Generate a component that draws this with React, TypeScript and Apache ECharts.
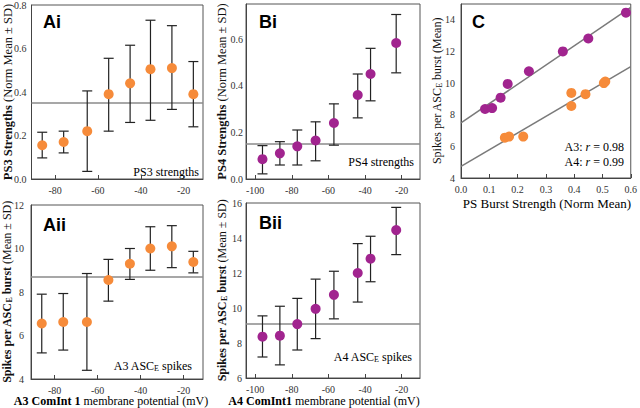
import React, { useEffect, useRef } from "react";
import * as echarts from "echarts";

// ---- Data ----
const a3Potential = [-86, -76, -65, -55, -45, -35.5, -25.5, -15.5];
const ps3Mean = [0.155, 0.17, 0.22, 0.39, 0.44, 0.505, 0.51, 0.39];
const ps3Low = [0.097, 0.12, 0.035, 0.22, 0.26, 0.27, 0.32, 0.24];
const ps3High = [0.215, 0.22, 0.405, 0.555, 0.615, 0.73, 0.705, 0.54];
const ps3Ref = 0.355;

const a3Spikes = [6.55, 6.62, 6.62, 8.55, 9.3, 10.0, 10.1, 9.38];
const a3SpikesLow = [5.2, 5.33, 4.4, 7.58, 8.58, 9.0, 9.12, 8.88];
const a3SpikesHigh = [7.9, 7.93, 8.85, 9.5, 10.0, 11.0, 11.05, 9.87];
const a3SpikesRef = 8.7;

const a4Potential = [-96, -86.5, -77, -67, -57, -44, -37, -23];
const ps4Mean = [0.085, 0.11, 0.14, 0.165, 0.24, 0.36, 0.45, 0.583];
const ps4Low = [0.022, 0.06, 0.06, 0.078, 0.145, 0.262, 0.335, 0.455];
const ps4High = [0.143, 0.16, 0.21, 0.245, 0.322, 0.45, 0.56, 0.705];
const ps4Ref = 0.153;

const a4Spikes = [8.36, 8.42, 9.08, 9.95, 10.75, 12.0, 12.82, 14.45];
const a4SpikesLow = [7.2, 6.75, 7.6, 8.25, 9.38, 10.34, 11.5, 13.05];
const a4SpikesHigh = [9.55, 10.1, 10.55, 11.65, 12.1, 13.68, 14.1, 15.75];
const a4SpikesRef = 9.1;

const a3TickLabels = [-80, -60, -40, -20];
const a4TickLabels = [-100, -80, -60, -40, -20];
const cXTicks = [0, 0.1, 0.2, 0.3, 0.4, 0.5, 0.6];

const ORANGE = "#F68B3A";
const PURPLE = "#A1248F";
const SERIF = "'Liberation Serif', 'Times New Roman', serif";
const SANS = "'Liberation Sans', Arial, sans-serif";

function fitLine(xs: number[], ys: number[]) {
  const n = xs.length;
  const mx = xs.reduce((a, b) => a + b, 0) / n;
  const my = ys.reduce((a, b) => a + b, 0) / n;
  let sxy = 0, sxx = 0;
  for (let i = 0; i < n; i++) {
    sxy += (xs[i] - mx) * (ys[i] - my);
    sxx += (xs[i] - mx) * (xs[i] - mx);
  }
  const m = sxy / sxx;
  return { m, b: my - m * mx };
}

const AXIS_COLOR = "#444";

function makeRich(size: number, lh: number) {
  return {
    b: { fontFamily: SERIF, fontSize: size, fontWeight: "bold", color: "#111", lineHeight: lh, verticalAlign: "middle" },
    bs: { fontFamily: SERIF, fontSize: 8, fontWeight: "bold", color: "#111", lineHeight: lh - 3, verticalAlign: "bottom" },
    n: { fontFamily: SERIF, fontSize: size, color: "#111", lineHeight: lh, verticalAlign: "middle" },
    s: { fontFamily: SERIF, fontSize: 8, color: "#111", lineHeight: lh - 3, verticalAlign: "bottom" },
    i: { fontFamily: SERIF, fontSize: size, fontStyle: "italic", color: "#111", lineHeight: lh, verticalAlign: "middle" },
  };
}

function xAxisCfg(gridIndex: number, min: number, max: number, ticks: number[], fmt?: (v: number) => string) {
  return {
    type: "value",
    gridIndex,
    min,
    max,
    axisLine: { show: true, onZero: false, lineStyle: { color: AXIS_COLOR, width: 1 } },
    axisTick: { show: true, inside: true, length: 4, customValues: ticks, lineStyle: { color: AXIS_COLOR } },
    axisLabel: {
      customValues: ticks,
      fontFamily: SERIF,
      fontSize: 10,
      color: "#333",
      margin: 6,
      formatter: fmt || ((v: number) => String(v)),
    },
    splitLine: { show: false },
  };
}

function yAxisCfg(gridIndex: number, min: number, max: number, interval: number, fmt: ((v: number) => string) | undefined, margin: number, showMax: boolean, name: string, nameGap: number, size: number) {
  return {
    type: "value",
    gridIndex,
    min,
    max,
    interval,
    name,
    nameLocation: "middle",
    nameGap,
    nameRotate: 90,
    nameMoveOverlap: false,
    nameTextStyle: { rich: makeRich(size, 12) },
    axisLine: { show: true, onZero: false, lineStyle: { color: AXIS_COLOR, width: 1 } },
    axisTick: { show: false },
    axisLabel: {
      show: true,
      fontFamily: SERIF,
      fontSize: 10,
      color: "#333",
      margin,
      showMaxLabel: showMax,
      showMinLabel: true,
      hideOverlap: false,
      formatter: fmt || ((v: number) => String(v)),
    },
    splitLine: { show: false },
  };
}

function errorSeries(idx: number, xs: number[], lo: number[], hi: number[]) {
  return {
    type: "custom",
    xAxisIndex: idx,
    yAxisIndex: idx,
    silent: true,
    z: 2,
    data: xs.map((x, i) => [x, lo[i], hi[i]]),
    encode: { x: 0, y: [1, 2] },
    renderItem: (params: any, api: any) => {
      const x = api.value(0);
      const pLo = api.coord([x, api.value(1)]);
      const pHi = api.coord([x, api.value(2)]);
      const w = 5;
      const style = { stroke: "#222", lineWidth: 1.2 };
      return {
        type: "group",
        children: [
          { type: "line", shape: { x1: pHi[0], y1: pHi[1], x2: pLo[0], y2: pLo[1] }, style },
          { type: "line", shape: { x1: pHi[0] - w, y1: pHi[1], x2: pHi[0] + w, y2: pHi[1] }, style },
          { type: "line", shape: { x1: pLo[0] - w, y1: pLo[1], x2: pLo[0] + w, y2: pLo[1] }, style },
        ],
      };
    },
  };
}

function meanSeries(idx: number, xs: number[], ys: number[], color: string, ref: number) {
  return {
    type: "scatter",
    xAxisIndex: idx,
    yAxisIndex: idx,
    symbolSize: 10,
    z: 3,
    itemStyle: { color, opacity: 1 },
    data: xs.map((x, i) => [x, ys[i]]),
    markLine: {
      silent: true,
      symbol: ["none", "none"],
      label: { show: false },
      lineStyle: { color: "#8a8a8a", width: 1.5, type: "solid" },
      data: [{ yAxis: ref }],
      z: 1,
    },
  };
}

function hText(x: number, y: number, text: string, align = "center", size = 12) {
  return {
    type: "text",
    x,
    y,
    style: { text, rich: makeRich(size, 13), align, verticalAlign: "middle" },
  };
}

function panelLabel(x: number, y: number, text: string) {
  return {
    type: "text",
    x,
    y,
    style: { text, fontFamily: SANS, fontWeight: "bold", fontSize: 18, fill: "#000", align: "left", verticalAlign: "middle" },
  };
}

export default function App() {
  const ref = useRef<HTMLDivElement>(null);
  useEffect(() => {
    if (!ref.current) return;
    const chart = echarts.init(ref.current, null, { renderer: "svg" });
    const fit3 = fitLine(ps3Mean, a3Spikes);
    const fit4 = fitLine(ps4Mean, a4Spikes);
    const cMin = cXTicks[0];
    const cMax = cXTicks[cXTicks.length - 1];
    const gridBox = { show: true, borderColor: "#555", borderWidth: 1, backgroundColor: "transparent", containLabel: false };
    const f1 = (v: number) => v.toFixed(1);
    const spikesTitle = "{b|Spikes per ASC}{bs|E}{b| burst}{n| (Mean ± SD)}";
    const option: any = {
      animation: false,
      backgroundColor: "#fff",
      grid: [
        { ...gridBox, left: 31, top: 4, width: 172, height: 175 },
        { ...gridBox, left: 31, top: 205, width: 172, height: 174 },
        { ...gridBox, left: 246, top: 4, width: 174, height: 175 },
        { ...gridBox, left: 246, top: 203, width: 174, height: 175 },
        { ...gridBox, left: 461, top: 4, width: 171, height: 174 },
      ],
      xAxis: [
        xAxisCfg(0, -91, -11, a3TickLabels),
        xAxisCfg(1, -91, -11, a3TickLabels),
        xAxisCfg(2, -105, -10, a4TickLabels),
        xAxisCfg(3, -105, -10, a4TickLabels),
        xAxisCfg(4, cMin, cMax, cXTicks, f1),
      ],
      yAxis: [
        yAxisCfg(0, 0, 0.8, 0.2, f1, 5, true, "{b|PS3 Strengths}{n| (Norm Mean ± SD)}", 18, 12.5),
        yAxisCfg(1, 4, 12, 2, undefined, 7, true, spikesTitle, 18, 12),
        yAxisCfg(2, 0, 0.75, 0.2, f1, 3, false, "{b|PS4 Strengths}{n| (Norm Mean ± SD)}", 18, 12.5),
        yAxisCfg(3, 6, 16, 2, undefined, 4, true, spikesTitle, 18, 12),
        yAxisCfg(4, 4, 15, 2, undefined, 6, false, "{n|Spikes per ASC}{s|E}{n| burst (Mean)}", 18, 12),
      ],
      series: [
        errorSeries(0, a3Potential, ps3Low, ps3High),
        meanSeries(0, a3Potential, ps3Mean, ORANGE, ps3Ref),
        errorSeries(1, a3Potential, a3SpikesLow, a3SpikesHigh),
        meanSeries(1, a3Potential, a3Spikes, ORANGE, a3SpikesRef),
        errorSeries(2, a4Potential, ps4Low, ps4High),
        meanSeries(2, a4Potential, ps4Mean, PURPLE, ps4Ref),
        errorSeries(3, a4Potential, a4SpikesLow, a4SpikesHigh),
        meanSeries(3, a4Potential, a4Spikes, PURPLE, a4SpikesRef),
        {
          type: "line",
          xAxisIndex: 4,
          yAxisIndex: 4,
          symbol: "none",
          silent: true,
          z: 1,
          lineStyle: { color: "#7a7a7a", width: 1.5 },
          data: [[cMin, fit4.b + fit4.m * cMin], [cMax, fit4.b + fit4.m * cMax]],
        },
        {
          type: "line",
          xAxisIndex: 4,
          yAxisIndex: 4,
          symbol: "none",
          silent: true,
          z: 1,
          lineStyle: { color: "#7a7a7a", width: 1.5 },
          data: [[cMin, fit3.b + fit3.m * cMin], [cMax, fit3.b + fit3.m * cMax]],
        },
        {
          type: "scatter",
          xAxisIndex: 4,
          yAxisIndex: 4,
          symbolSize: 10,
          z: 3,
          itemStyle: { color: PURPLE, opacity: 1 },
          data: ps4Mean.map((x, i) => [x, a4Spikes[i]]),
        },
        {
          type: "scatter",
          xAxisIndex: 4,
          yAxisIndex: 4,
          symbolSize: 10,
          z: 3,
          itemStyle: { color: ORANGE, opacity: 1 },
          data: ps3Mean.map((x, i) => [x, a3Spikes[i]]),
        },
      ],
      graphic: [
        panelLabel(43, 22, "Ai"),
        panelLabel(43, 225, "Aii"),
        panelLabel(259, 22, "Bi"),
        panelLabel(259, 223, "Bii"),
        panelLabel(472, 22, "C"),
        hText(199, 172, "{n|PS3 strengths}", "right"),
        hText(192, 366, "{n|A3 ASC}{s|E}{n| spikes}", "right"),
        hText(414, 162, "{n|PS4 strengths}", "right"),
        hText(412, 357, "{n|A4 ASC}{s|E}{n| spikes}", "right"),
        hText(624, 147, "{n|A3: }{i|r}{n| = 0.98}", "right"),
        hText(624, 162, "{n|A4: }{i|r}{n| = 0.99}", "right"),
        hText(111, 401, "{b|A3 ComInt 1}{n| membrane potential (mV)}", "center", 12),
        hText(324, 401, "{b|A4 ComInt1}{n| membrane potential (mV)}", "center", 12),
        hText(547, 203, "{n|PS Burst Strength (Norm Mean)}", "center", 13),
      ],
    };
    chart.setOption(option);
    return () => chart.dispose();
  }, []);
  return (
    <div
      ref={ref}
      style={{ position: "absolute", left: 0, top: 0, width: 640, height: 408, background: "#fff" }}
    />
  );
}
